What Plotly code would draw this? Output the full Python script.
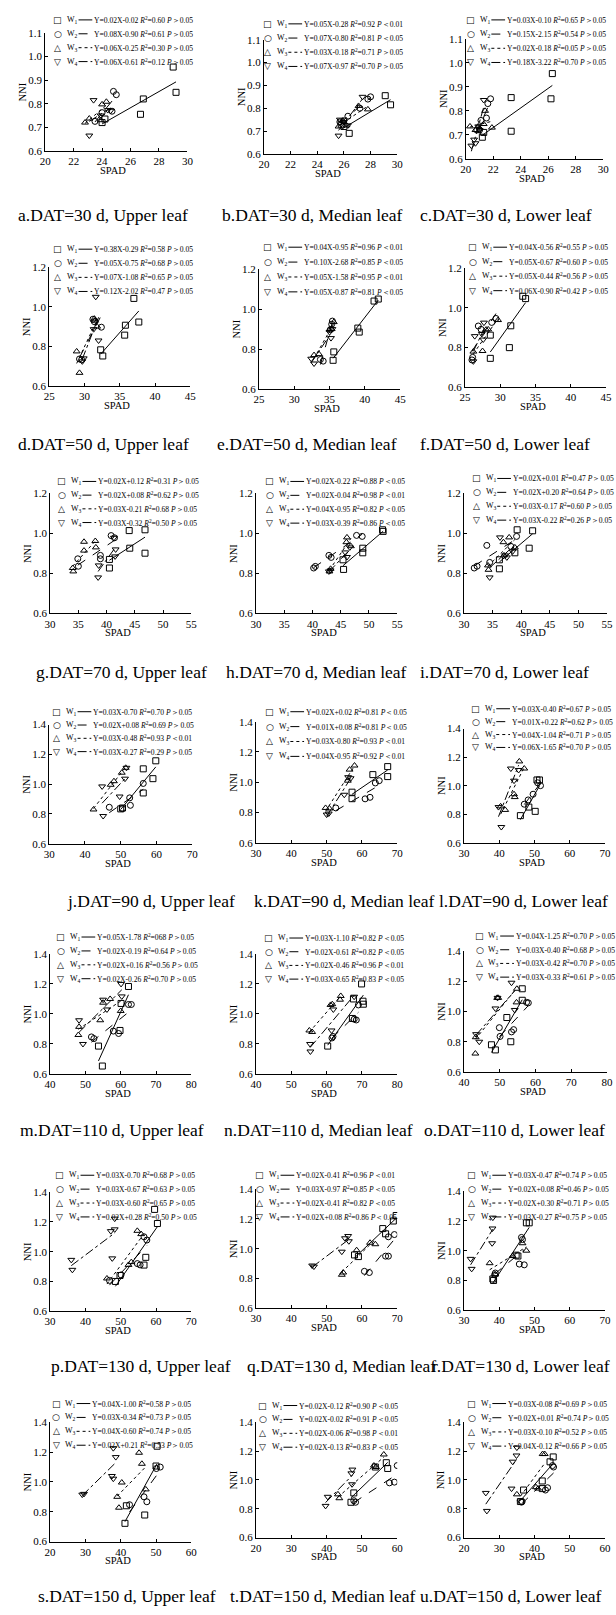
import numpy as np
import plotly.graph_objects as go

# ------------------------------------------------------------------
# DATA: SPAD (x) and NNI (y) for W1..W4 in each panel a..u
# ------------------------------------------------------------------
spad_a = [[24.0, 24.2, 26.7, 26.9, 29.0, 29.2], [23.5, 24.0, 24.7, 24.8, 25.0], [22.8, 23.1, 23.9, 24.0, 24.3], [23.1, 23.4, 23.9, 24.4, 24.6]]
nni_a = [[0.72, 0.735, 0.755, 0.82, 0.955, 0.848], [0.725, 0.762, 0.768, 0.852, 0.838], [0.72, 0.737, 0.73, 0.797, 0.808], [0.665, 0.815, 0.75, 0.773, 0.77]]
spad_b = [[25.8, 26.0, 26.4, 29.1, 29.5], [25.7, 26.0, 26.3, 27.2, 27.8, 28.0], [25.6, 25.9, 26.2, 27.1, 27.8], [25.6, 25.7, 26.0, 26.3, 27.4]]
nni_b = [[0.73, 0.72, 0.69, 0.855, 0.815], [0.74, 0.745, 0.765, 0.80, 0.84, 0.85], [0.72, 0.745, 0.725, 0.81, 0.795], [0.68, 0.75, 0.74, 0.725, 0.85]]
spad_c = [[21.2, 21.3, 23.3, 23.3, 26.2, 26.3], [20.8, 21.0, 21.1, 21.5, 21.6, 21.8], [20.3, 20.7, 20.9, 21.3, 21.4, 21.9], [20.4, 20.6, 20.7, 20.9, 21.0, 21.3]]
nni_c = [[0.69, 0.71, 0.855, 0.715, 0.85, 0.955], [0.72, 0.72, 0.76, 0.77, 0.83, 0.85], [0.735, 0.72, 0.735, 0.745, 0.80, 0.73], [0.655, 0.68, 0.665, 0.735, 0.72, 0.845]]
spad_d = [[32.3, 32.6, 35.7, 35.8, 37.0, 37.7], [29.3, 29.6, 31.2, 31.4, 32.4], [28.9, 29.3, 31.4, 31.5, 31.8], [29.7, 29.9, 31.3, 31.6, 32.0]]
nni_d = [[0.783, 0.752, 0.857, 0.907, 1.042, 0.923], [0.737, 0.733, 0.937, 0.925, 0.897], [0.775, 0.667, 0.94, 0.93, 0.90], [0.725, 0.74, 0.887, 1.05, 0.83]]
spad_e = [[35.5, 35.6, 39.0, 39.2, 41.3, 41.9], [33.7, 34.1, 35.1, 35.3, 35.4], [32.8, 33.5, 35.0, 35.3, 35.6], [32.4, 32.8, 35.0, 35.2, 35.4]]
nni_e = [[0.744, 0.786, 0.905, 0.885, 1.04, 1.05], [0.748, 0.74, 0.897, 0.924, 0.94], [0.77, 0.775, 0.897, 0.90, 0.935], [0.752, 0.728, 0.885, 0.855, 0.90]]
spad_f = [[28.6, 28.6, 31.3, 31.5, 33.2, 33.6], [26.0, 26.1, 26.9, 27.3, 28.8, 29.4], [26.2, 27.5, 28.0, 28.3, 29.7], [26.2, 26.4, 27.4, 27.6, 27.7]]
nni_f = [[0.745, 0.862, 0.799, 0.909, 1.058, 1.046], [0.737, 0.75, 0.908, 0.891, 0.926, 0.946], [0.779, 0.782, 0.89, 0.891, 0.938], [0.73, 0.857, 0.868, 0.84, 0.925]]
spad_g = [[40.5, 40.5, 44.0, 44.1, 46.8, 46.8], [34.9, 35.0, 38.9, 38.9, 40.8, 41.4], [34.0, 34.1, 36.0, 36.0, 38.0, 38.1], [38.5, 38.6, 41.3, 41.5, 41.6]]
nni_g = [[0.827, 0.87, 1.014, 0.926, 1.018, 0.901], [0.873, 0.836, 0.89, 0.873, 0.989, 0.978], [0.827, 0.81, 0.914, 0.958, 0.962, 0.93], [0.78, 0.84, 0.978, 0.885, 0.92]]
spad_h = [[45.4, 45.5, 48.9, 48.9, 52.4, 52.5], [40.2, 40.5, 42.9, 43.3, 47.8, 48.8], [43.0, 43.2, 46.0, 46.1, 46.8], [42.9, 43.2, 45.8, 46.1, 46.6]]
nni_h = [[0.868, 0.82, 0.926, 0.903, 1.018, 1.01], [0.827, 0.835, 0.89, 0.88, 0.99, 0.985], [0.81, 0.823, 0.956, 0.98, 0.936], [0.81, 0.815, 0.905, 0.882, 0.93]]
spad_i = [[36.2, 36.2, 38.9, 39.3, 41.4, 42.0], [31.8, 32.3, 34.0, 34.5, 38.2, 39.2], [34.2, 34.3, 36.9, 37.0, 37.9, 38.9], [34.5, 36.3, 37.2, 37.5, 38.5]]
nni_i = [[0.823, 0.868, 0.903, 1.018, 0.926, 1.013], [0.827, 0.836, 0.94, 0.855, 0.935, 0.985], [0.84, 0.818, 0.956, 0.89, 0.98, 0.93], [0.78, 0.98, 0.89, 0.88, 0.91]]
spad_j = [[50.0, 50.5, 56.3, 56.3, 59.0, 59.8], [46.8, 50.5, 52.5, 52.7, 56.3], [42.4, 47.2, 48.1, 50.3, 51.4], [44.8, 45.1, 49.7, 51.2, 51.6]]
nni_j = [[0.834, 0.84, 0.941, 1.103, 1.037, 1.157], [0.845, 0.836, 0.908, 0.858, 1.005], [0.83, 0.996, 1.02, 1.077, 1.11], [0.985, 0.786, 0.917, 1.037, 1.11]]
spad_k = [[57.2, 57.2, 63.1, 67.3, 67.3], [52.6, 60.9, 62.3, 63.8, 64.9], [49.7, 50.8, 56.0, 56.5, 57.9], [50.0, 50.6, 55.0, 56.1, 56.8]]
nni_k = [[0.934, 0.891, 1.05, 1.103, 1.037], [0.83, 0.89, 0.9, 0.995, 1.01], [0.83, 0.826, 1.01, 1.083, 1.11], [0.786, 0.793, 0.917, 1.033, 1.026]]
spad_l = [[46.0, 48.4, 50.2, 50.7, 51.4], [47.1, 48.2, 49.6, 50.9, 51.7], [40.4, 41.7, 44.2, 44.4, 45.7, 47.1], [39.8, 40.6, 43.3, 44.2, 45.5]]
nni_l = [[0.79, 0.85, 0.82, 1.04, 1.04], [0.87, 0.90, 0.94, 1.02, 1.00], [0.855, 0.83, 0.94, 0.92, 1.17, 1.12], [0.85, 0.71, 1.12, 1.035, 1.11]]
spad_m = [[53.7, 54.8, 59.8, 60.1, 62.2], [51.7, 52.4, 57.9, 59.4, 62.2, 63.0], [48.0, 48.2, 54.2, 55.0, 57.0, 60.0], [48.2, 49.3, 55.0, 56.1, 60.1, 60.3]]
nni_m = [[0.786, 0.653, 0.89, 1.07, 1.183], [0.847, 0.836, 0.886, 0.87, 1.063, 1.063], [0.86, 0.914, 0.958, 1.075, 1.10, 1.02], [0.958, 0.80, 1.095, 1.03, 1.20, 1.117]]
spad_n = [[60.3, 67.3, 67.6, 69.9, 70.3, 70.4], [61.5, 61.8, 67.8, 68.4, 69.0], [55.1, 55.9, 61.1, 61.6, 63.8, 64.0], [55.3, 55.4, 61.4, 61.9, 67.8]]
nni_n = [[0.786, 0.97, 1.10, 1.20, 1.085, 1.065], [0.84, 0.85, 0.965, 0.96, 1.06], [0.89, 0.88, 1.06, 1.065, 1.095, 1.12], [0.80, 0.75, 0.89, 1.03, 1.115]]
spad_o = [[47.7, 48.8, 52.0, 53.1, 56.3, 56.3], [49.9, 50.1, 53.3, 53.9, 57.5, 58.0], [43.2, 43.3, 49.3, 49.6, 54.7, 54.8], [43.4, 44.3, 48.8, 49.4, 53.3, 54.2]]
nni_o = [[0.78, 0.746, 0.96, 0.80, 1.074, 1.15], [0.893, 0.835, 0.865, 0.88, 1.06, 1.057], [0.722, 0.83, 1.09, 1.09, 1.06, 1.15], [0.85, 0.80, 1.02, 1.09, 1.19, 1.01]]
spad_p = [[48.5, 49.8, 56.6, 57.1, 59.6, 60.4], [46.8, 50.1, 54.7, 55.5, 56.6, 57.4], [46.1, 52.2, 53.0, 54.7, 55.8], [36.0, 36.3, 47.2, 47.6, 48.3, 48.3]]
nni_p = [[0.80, 0.84, 0.91, 0.962, 1.284, 1.189], [0.807, 0.844, 0.92, 0.911, 1.10, 1.078], [0.82, 0.911, 0.93, 1.14, 1.118], [0.945, 0.878, 1.138, 0.955, 1.222, 1.15]]
spad_q = [[57.9, 59.0, 65.9, 66.7, 68.9, 69.7], [60.7, 62.1, 66.7, 67.5, 67.5, 69.2], [54.3, 54.7, 58.5, 62.3, 63.8], [45.9, 46.4, 54.3, 55.2, 56.1, 56.3]]
nni_q = [[0.958, 0.947, 1.135, 1.10, 1.186, 1.223], [0.848, 0.84, 0.95, 0.95, 1.08, 1.095], [0.825, 0.84, 0.99, 1.04, 1.03], [0.887, 0.88, 0.98, 1.07, 1.085, 1.05]]
spad_r = [[38.2, 38.4, 44.8, 45.3, 47.7, 48.5], [38.7, 38.9, 45.7, 46.3, 46.6, 47.1], [37.3, 38.9, 43.8, 46.6, 47.7], [31.9, 32.2, 38.0, 38.1, 38.2]]
nni_r = [[0.81, 0.80, 0.97, 0.964, 1.187, 1.187], [0.838, 0.85, 0.91, 1.089, 1.075, 0.905], [0.916, 0.84, 0.964, 1.05, 1.0], [0.945, 0.878, 1.05, 1.149, 1.222]]
spad_s = [[41.2, 41.6, 46.8, 50.0, 50.3], [42.5, 46.6, 47.4, 50.1, 51.2], [39.0, 39.5, 40.3, 45.2, 46.0, 47.1], [29.1, 29.6, 37.5, 37.9, 37.9, 38.6]]
nni_s = [[0.722, 0.84, 0.778, 1.107, 1.24], [0.847, 0.90, 0.867, 1.09, 1.10], [0.90, 0.827, 0.996, 1.196, 1.122, 0.95], [0.915, 0.92, 1.04, 1.022, 1.227, 1.167]]
spad_t = [[46.9, 47.7, 53.8, 56.9, 57.3], [47.7, 48.2, 57.8, 59.2, 60.0], [43.2, 43.6, 53.4, 54.0, 56.2], [39.7, 40.3, 47.0, 47.2, 47.3]]
nni_t = [[0.845, 0.91, 1.09, 1.12, 1.08], [0.856, 0.845, 0.98, 0.985, 1.10], [0.90, 0.873, 1.10, 1.09, 1.177], [0.82, 0.883, 1.046, 0.97, 1.072]]
spad_u = [[36.0, 36.9, 42.2, 42.2, 44.4, 45.3], [36.3, 36.5, 43.1, 43.7, 45.1, 45.4], [35.0, 40.4, 41.0, 42.3, 42.9], [26.2, 26.5, 33.5, 33.8, 34.9, 35.0]]
nni_u = [[0.85, 0.93, 0.94, 0.993, 1.126, 1.16], [0.846, 0.85, 0.93, 0.946, 1.10, 1.09], [0.90, 0.95, 0.94, 1.18, 1.18], [0.91, 0.785, 0.94, 1.127, 1.17, 1.225]]

# regression text shown in each panel's legend: (equation, R2, P)
eq_a = [("Y=0.02X-0.02", "0.60", ">0.05"), ("Y=0.08X-0.90", "0.61", ">0.05"), ("Y=0.06X-0.25", "0.30", ">0.05"), ("Y=0.06X-0.61", "0.12", ">0.05")]
eq_b = [("Y=0.05X-0.28", "0.92", "<0.01"), ("Y=0.07X-0.80", "0.81", "<0.05"), ("Y=0.03X-0.18", "0.71", ">0.05"), ("Y=0.07X-0.97", "0.70", ">0.05")]
eq_c = [("Y=0.03X-0.10", "0.65", ">0.05"), ("Y=0.15X-2.15", "0.54", ">0.05"), ("Y=0.02X-0.18", "0.05", ">0.05"), ("Y=0.18X-3.22", "0.70", ">0.05")]
eq_d = [("Y=0.38X-0.29", "0.58", ">0.05"), ("Y=0.05X-0.75", "0.68", ">0.05"), ("Y=0.07X-1.08", "0.65", ">0.05"), ("Y=0.12X-2.02", "0.47", ">0.05")]
eq_e = [("Y=0.04X-0.95", "0.96", "<0.01"), ("Y=0.10X-2.68", "0.85", "<0.05"), ("Y=0.05X-1.58", "0.95", "<0.01"), ("Y=0.05X-0.87", "0.81", "<0.05")]
eq_f = [("Y=0.04X-0.56", "0.55", ">0.05"), ("Y=0.05X-0.67", "0.60", ">0.05"), ("Y=0.05X-0.44", "0.56", ">0.05"), ("Y=0.06X-0.90", "0.42", ">0.05")]
eq_g = [("Y=0.02X+0.12", "0.31", ">0.05"), ("Y=0.02X+0.08", "0.62", ">0.05"), ("Y=0.03X-0.21", "0.68", ">0.05"), ("Y=0.03X-0.32", "0.50", ">0.05")]
eq_h = [("Y=0.02X-0.22", "0.88", "<0.05"), ("Y=0.02X-0.04", "0.98", "<0.01"), ("Y=0.04X-0.95", "0.82", "<0.05"), ("Y=0.03X-0.39", "0.86", "<0.05")]
eq_i = [("Y=0.02X+0.01", "0.47", ">0.05"), ("Y=0.02X+0.20", "0.64", ">0.05"), ("Y=0.03X-0.17", "0.60", ">0.05"), ("Y=0.03X-0.22", "0.26", ">0.05")]
eq_j = [("Y=0.03X-0.70", "0.70", ">0.05"), ("Y=0.02X+0.08", "0.69", ">0.05"), ("Y=0.03X-0.48", "0.93", "<0.01"), ("Y=0.03X-0.27", "0.29", ">0.05")]
eq_k = [("Y=0.02X+0.02", "0.81", "<0.05"), ("Y=0.01X+0.08", "0.81", "<0.05"), ("Y=0.03X-0.80", "0.93", "<0.01"), ("Y=0.04X-0.95", "0.92", "<0.01")]
eq_l = [("Y=0.03X-0.40", "0.67", ">0.05"), ("Y=0.01X+0.22", "0.62", ">0.05"), ("Y=0.04X-1.04", "0.71", ">0.05"), ("Y=0.06X-1.65", "0.70", ">0.05")]
eq_m = [("Y=0.05X-1.78", "068", ">0.05"), ("Y=0.02X-0.19", "0.64", ">0.05"), ("Y=0.02X+0.16", "0.56", ">0.05"), ("Y=0.02X-0.26", "0.70", ">0.05")]
eq_n = [("Y=0.03X-1.10", "0.82", "<0.05"), ("Y=0.02X-0.61", "0.82", "<0.05"), ("Y=0.02X-0.46", "0.96", "<0.01"), ("Y=0.03X-0.65", "0.83", "<0.05")]
eq_o = [("Y=0.04X-1.25", "0.70", ">0.05"), ("Y=0.03X-0.40", "0.68", ">0.05"), ("Y=0.03X-0.42", "0.70", ">0.05"), ("Y=0.03X-0.33", "0.61", ">0.05")]
eq_p = [("Y=0.03X-0.70", "0.68", ">0.05"), ("Y=0.03X-0.67", "0.63", ">0.05"), ("Y=0.03X-0.60", "0.65", ">0.05"), ("Y=0.02X+0.28", "0.50", ">0.05")]
eq_q = [("Y=0.02X-0.41", "0.96", "<0.01"), ("Y=0.03X-0.97", "0.85", "<0.05"), ("Y=0.02X-0.41", "0.82", "<0.05"), ("Y=0.02X+0.08", "0.86", "<0.05")]
eq_r = [("Y=0.03X-0.47", "0.74", ">0.05"), ("Y=0.02X+0.08", "0.46", ">0.05"), ("Y=0.02X+0.30", "0.71", ">0.05"), ("Y=0.03X-0.27", "0.75", ">0.05")]
eq_s = [("Y=0.04X-1.00", "0.58", ">0.05"), ("Y=0.03X-0.34", "0.73", ">0.05"), ("Y=0.04X-0.60", "0.74", ">0.05"), ("Y=0.02X+0.21", "0.53", ">0.05")]
eq_t = [("Y=0.02X-0.12", "0.90", "<0.05"), ("Y=0.02X-0.02", "0.91", "<0.05"), ("Y=0.02X-0.06", "0.98", "<0.01"), ("Y=0.02X-0.13", "0.83", "<0.05")]
eq_u = [("Y=0.03X-0.08", "0.69", ">0.05"), ("Y=0.02X+0.01", "0.74", ">0.05"), ("Y=0.03X-0.10", "0.52", ">0.05"), ("Y=0.04X-0.12", "0.66", ">0.05")]

captions = ["a.DAT=30 d, Upper leaf", "b.DAT=30 d, Median leaf", "c.DAT=30 d, Lower leaf",
            "d.DAT=50 d, Upper leaf", "e.DAT=50 d, Median leaf", "f.DAT=50 d, Lower leaf",
            "g.DAT=70 d, Upper leaf", "h.DAT=70 d, Median leaf", "i.DAT=70 d, Lower leaf",
            "j.DAT=90 d, Upper leaf", "k.DAT=90 d, Median leaf", "l.DAT=90 d, Lower leaf",
            "m.DAT=110 d, Upper leaf", "n.DAT=110 d, Median leaf", "o.DAT=110 d, Lower leaf",
            "p.DAT=130 d, Upper leaf", "q.DAT=130 d, Median leaf", "r.DAT=130 d, Lower leaf",
            "s.DAT=150 d, Upper leaf", "t.DAT=150 d, Median leaf", "u.DAT=150 d, Lower leaf"]
series_names = ["1", "2", "3", "4"]

# axis ranges per row (min, max, step)
row_x = [(20, 30, 2), (25, 45, 5), (30, 55, 5), (30, 70, 10), (40, 80, 10), (30, 70, 10), (20, 60, 10)]
row_y = [(0.6, 1.1, 0.1), (0.6, 1.2, 0.2), (0.6, 1.2, 0.2), (0.6, 1.4, 0.2), (0.6, 1.4, 0.2), (0.6, 1.4, 0.2), (0.6, 1.4, 0.2)]

panel_ids = list("abcdefghijklmnopqrstu")
SPAD = {p: globals()["spad_" + p] for p in panel_ids}
NNI = {p: globals()["nni_" + p] for p in panel_ids}
EQ = {p: globals()["eq_" + p] for p in panel_ids}

# ------------------------------------------------------------------
# LAYOUT (pixel geometry of the composite figure)
# ------------------------------------------------------------------
W, H = 616, 1615
FONT = "Liberation Serif"
# plot box: x0, x1, y_top, y_bottom
BOX = {
    "a": (40, 185, 27, 146), "b": (263, 399, 34, 149), "c": (469, 609, 33, 154),
    "d": (44, 188, 263, 383), "e": (258, 402, 265, 386), "f": (468, 612, 264, 384),
    "g": (45, 189, 491, 612), "h": (255, 399, 491, 612), "i": (467, 613, 491, 612),
    "j": (44, 190, 724, 844), "k": (255, 399, 721, 843), "l": (467, 611, 728, 843),
    "m": (45, 189, 955, 1076), "n": (255, 399, 955, 1076), "o": (467, 613, 952, 1074),
    "p": (45, 189, 1195, 1315), "q": (255, 399, 1192, 1312), "r": (467, 611, 1194, 1314),
    "s": (45, 189, 1427, 1547), "t": (255, 399, 1427, 1543), "u": (467, 611, 1427, 1543),
}
# legend: marker x, first row y, row spacing
LEG = {
    "a": (53, 14, 14), "b": (267, 18, 14.3), "c": (474, 14, 14.3),
    "d": (53, 245, 14.2), "e": (267, 243, 15), "f": (476, 243, 14.6),
    "g": (57, 479, 13.8), "h": (269, 479, 14), "i": (480, 476, 14),
    "j": (52, 711, 13.4), "k": (269, 711, 15), "l": (479, 708, 13),
    "m": (56, 938, 14), "n": (268, 939, 13.8), "o": (483, 937, 13.8),
    "p": (55, 1178, 14), "q": (259, 1178, 14), "r": (475, 1178, 14),
    "s": (51, 1408, 14), "t": (262, 1410, 14), "u": (475, 1408, 14.3),
}
# caption: left x, center y
CAP = {
    "a": (10, 211), "b": (218, 211), "c": (420, 211),
    "d": (10, 441), "e": (213, 441), "f": (420, 441),
    "g": (29, 671), "h": (222, 671), "i": (420, 671),
    "j": (60, 902), "k": (251, 902), "l": (440, 902),
    "m": (12, 1132), "n": (220, 1132), "o": (424, 1132),
    "p": (44, 1370), "q": (244, 1370), "r": (432, 1370),
    "s": (31, 1602), "t": (226, 1602), "u": (420, 1602),
}

SYMBOLS = ["square-open", "circle-open", "triangle-up-open", "triangle-down-open"]
GLYPHS = ["\u25a1", "\u25cb", "\u25b3", "\u25bd"]
DASHES = ["solid", "dash", "dot", "dashdot"]


def px(xp):
    return xp / W


def py(yp):
    return 1 - yp / H


fig = go.Figure()
annotations = []
shapes = []
layout_axes = {}

for idx, pid in enumerate(panel_ids):
    n = idx + 1
    sfx = "" if n == 1 else str(n)
    xref, yref = "x" + sfx, "y" + sfx
    row = idx // 3
    x0, x1, yt, yb = BOX[pid]
    xmin, xmax, xstep = row_x[row]
    ymin, ymax, ystep = row_y[row]

    for s in range(4):
        xs = SPAD[pid][s]
        ys = NNI[pid][s]
        fig.add_trace(go.Scatter(
            x=xs, y=ys, mode="markers", xaxis=xref, yaxis=yref, showlegend=False,
            marker=dict(symbol=SYMBOLS[s], size=6, color="black", line=dict(width=1, color="black")),
        ))
        k, b = np.polyfit(xs, ys, 1)
        xl = np.array([min(xs), max(xs)])
        fig.add_trace(go.Scatter(
            x=xl, y=k * xl + b, mode="lines", xaxis=xref, yaxis=yref, showlegend=False,
            line=dict(color="black", width=1, dash=DASHES[s]),
        ))

    common = dict(showline=True, linecolor="black", linewidth=1, ticks="inside", ticklen=3,
                  tickcolor="black", tickwidth=1, showgrid=False, zeroline=False,
                  tickfont=dict(family=FONT, size=11, color="black"))
    layout_axes["xaxis" + sfx] = dict(common, domain=[px(x0), px(x1)], anchor=yref,
                                      range=[xmin, xmax], tick0=xmin, dtick=xstep)
    layout_axes["yaxis" + sfx] = dict(common, domain=[py(yb), py(yt)], anchor=xref,
                                      range=[ymin, ymax + 1e-9], tick0=ymin, dtick=ystep,
                                      tickformat=".1f")

    # axis titles
    annotations.append(dict(text="SPAD", x=px((x0 + x1) / 2 - 3), y=py(yb + 19.5), xref="paper", yref="paper",
                            showarrow=False, xanchor="center", yanchor="middle",
                            font=dict(family=FONT, size=10.5, color="black")))
    annotations.append(dict(text="NNI", x=px(x0 - 23), y=py((yt + yb) / 2), xref="paper", yref="paper",
                            showarrow=False, xanchor="center", yanchor="middle", textangle=-90,
                            font=dict(family=FONT, size=10.5, color="black")))

    # caption
    cx, cy = CAP[pid]
    annotations.append(dict(text=captions[idx], x=px(cx), y=py(cy), xref="paper", yref="paper",
                            showarrow=False, xanchor="left", yanchor="middle",
                            font=dict(family=FONT, size=17.5, color="black")))

    # in-panel legend
    lx, ly0, dy = LEG[pid]
    for s in range(4):
        ly = ly0 + s * dy
        annotations.append(dict(text=GLYPHS[s], x=px(lx), y=py(ly), xref="paper", yref="paper",
                                showarrow=False, xanchor="center", yanchor="middle",
                                font=dict(family="DejaVu Sans", size=9, color="black")))
        annotations.append(dict(text="W<sub>" + series_names[s] + "</sub>", x=px(lx + 7), y=py(ly),
                                xref="paper", yref="paper", showarrow=False, xanchor="left",
                                yanchor="middle", font=dict(family=FONT, size=8, color="black")))
        shapes.append(dict(type="line", xref="paper", yref="paper", x0=px(lx + 21), x1=px(lx + 35),
                           y0=py(ly), y1=py(ly), line=dict(color="black", width=1, dash=DASHES[s])))
        eq, r2, pv = EQ[pid][s]
        sym = "\uff1e" if pv[0] == ">" else "\uff1c"
        txt = f"{eq} <i>R</i><sup>2</sup>={r2} <i>P</i>{sym}{pv[1:]}"
        annotations.append(dict(text=txt, x=px(lx + 35), y=py(ly), xref="paper", yref="paper",
                                showarrow=False, xanchor="left", yanchor="middle",
                                font=dict(family=FONT, size=7.6, color="black")))

fig.update_layout(
    width=W, height=H, margin=dict(l=0, r=0, t=0, b=0),
    paper_bgcolor="white", plot_bgcolor="white",
    showlegend=False, annotations=annotations, shapes=shapes,
    **layout_axes,
)

fig.write_html(
    "out.html",
    config={"displayModeBar": False},
    post_script="document.body.style.margin='0px';document.body.style.padding='0px';"
                "document.body.style.overflow='hidden';",
)
